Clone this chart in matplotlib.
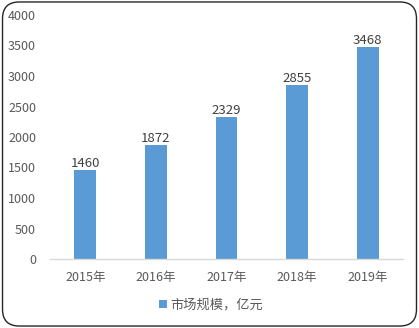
import matplotlib.pyplot as plt
from matplotlib.patches import FancyBboxPatch

plt.rcParams['font.family'] = ['Noto Sans CJK SC', 'DejaVu Sans']

years = ["2015年", "2016年", "2017年", "2018年", "2019年"]
values = [1460, 1872, 2329, 2855, 3468]
series_name = "市场规模，亿元"

bar_color = "#5B9BD5"
text_color = "#595959"

fig = plt.figure(figsize=(4.19, 3.28), dpi=100, facecolor="white")

# rounded frame around the chart
frame = FancyBboxPatch(
    (0.006, 0.006), 0.988, 0.988,
    boxstyle="round,pad=0,rounding_size=0.04",
    transform=fig.transFigure,
    facecolor="none",
    edgecolor="#262626",
    linewidth=1.0,
    mutation_aspect=419 / 328,
    zorder=-1,
)
fig.patches.append(frame)

ax = fig.add_axes([50 / 419, 69 / 328, 353 / 419, 244 / 328])
ax.set_facecolor("none")

x = range(len(years))
bars = ax.bar(x, values, width=0.31, color=bar_color, label=series_name)

for xi, v in zip(x, values):
    ax.annotate(str(v), (xi, v), xytext=(0, 0), textcoords="offset points",
                ha="center", va="bottom", fontsize=9.5, color="#404040")

ax.set_xlim(-0.5, len(years) - 0.5)
ax.set_ylim(0, 4000)
ax.set_yticks(range(0, 4001, 500))
ax.set_xticks(list(x))
ax.set_xticklabels(years)

for s in ["top", "right", "left"]:
    ax.spines[s].set_visible(False)
ax.spines["bottom"].set_color("#D9D9D9")
ax.spines["bottom"].set_linewidth(1.0)

ax.tick_params(axis="y", length=0, pad=10, labelsize=9, labelcolor=text_color)
ax.tick_params(axis="x", length=0, pad=9, labelsize=9, labelcolor=text_color)

fig.legend(
    handles=[bars],
    labels=[series_name],
    loc="center",
    bbox_to_anchor=(211 / 419, 1 - 305 / 328),
    frameon=False,
    fontsize=9.5,
    labelcolor=text_color,
    handlelength=0.6,
    handleheight=0.6,
    handletextpad=0.3,
)

fig.savefig("out.png", dpi=100)
